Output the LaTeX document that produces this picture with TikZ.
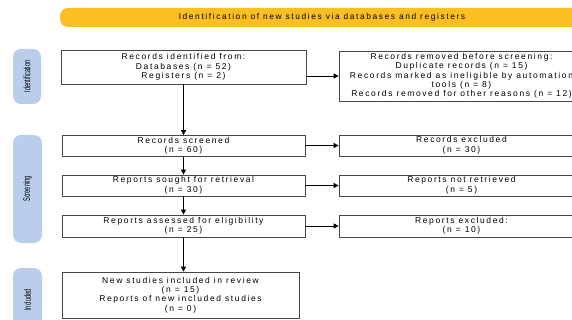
\documentclass[tikz,border=0pt]{standalone}
\usepackage{fontspec}
\setmainfont[LetterSpace=19]{Liberation Sans}
\usetikzlibrary{arrows.meta}
\definecolor{banner}{RGB}{251,191,36}
\definecolor{side}{RGB}{186,206,236}
\definecolor{edge}{RGB}{70,70,70}
\tikzset{
  box/.style={draw=edge, line width=0.7pt, align=center, inner sep=0pt,
    font=\fontsize{8.5}{9.4}\selectfont},
  arr/.style={-{Triangle[length=5pt,width=5pt]}, line width=0.8pt, black},
  sidelab/.style={fill=side, rounded corners=8pt, inner sep=0pt},
  sidetxt/.style={rotate=90, font=\fontsize{9.4}{9}\selectfont},
}
\begin{document}
\begin{tikzpicture}[x=1pt,y=-1pt]
\useasboundingbox (0,0) rectangle (572,320);
\clip (0,0) rectangle (572,320);
\fill[white] (0,0) rectangle (572,320);
% banner
\node[fill=banner, rounded corners=8pt, minimum width=530pt, minimum height=19pt, inner sep=0pt] (ban) at (325,17.5) {};
\node[font=\fontsize{8.4}{9}\selectfont] (bantxt) at (322,17) {Identification of new studies via databases and registers};
% side labels
\node[sidelab, minimum width=28pt, minimum height=55pt] (sid) at (27,76.5) {};
\node[sidetxt] (sidt) at (27,76.5) {\scalebox{0.6}[1]{\addfontfeature{LetterSpace=0}Identification}};
\node[sidelab, minimum width=29pt, minimum height=108pt] (sscr) at (27.5,189) {};
\node[sidetxt] (sscrt) at (27.5,189) {\scalebox{0.6}[1]{\addfontfeature{LetterSpace=0}Screening}};
\node[sidelab, minimum width=29pt, minimum height=70pt] (sinc) at (27.5,303) {};
\node[sidetxt] (sinct) at (27.5,300) {\scalebox{0.6}[1]{\addfontfeature{LetterSpace=0}Included}};
% left column
\node[box, minimum width=245pt, minimum height=34pt] (b1) at (183.5,67) {Records identified from:\\Databases (n = 52)\\Registers (n = 2)};
\node[box, minimum width=243pt, minimum height=21pt] (b2) at (183.5,146) {Records screened\\(n = 60)};
\node[box, minimum width=243pt, minimum height=21pt] (b3) at (183.5,185.5) {Reports sought for retrieval\\(n = 30)};
\node[box, minimum width=243pt, minimum height=22pt] (b4) at (183.5,226) {Reports assessed for eligibility\\(n = 25)};
\node[box, minimum width=237pt, minimum height=46pt] (b5) at (180.5,295) {New studies included in review\\(n = 15)\\Reports of new included studies\\(n = 0)};
% right column
\node[box, minimum width=245pt, minimum height=50pt] (r1) at (461.5,76) {Records removed before screening:\\Duplicate records (n = 15)\\Records marked as ineligible by automation\\tools (n = 8)\\Records removed for other reasons (n = 12)};
\node[box, minimum width=245pt, minimum height=21pt] (r2) at (461.5,145.5) {Records excluded\\(n = 30)};
\node[box, minimum width=245pt, minimum height=21pt] (r3) at (461.5,185.5) {Reports not retrieved\\(n = 5)};
\node[box, minimum width=245pt, minimum height=22pt] (r4) at (461.5,226) {Reports excluded:\\(n = 10)};
% arrows
\draw[arr] (b1.south) -- (b2.north);
\draw[arr] (b2.south) -- (b3.north);
\draw[arr] (b3.south) -- (b4.north);
\draw[arr] (b4.south) -- (b4.south |- b5.north);
\draw[arr] (b1.east |- r1.west) -- (r1.west);
\draw[arr] (b2.east |- r2.west) -- (r2.west);
\draw[arr] (b3.east |- r3.west) -- (r3.west);
\draw[arr] (b4.east |- r4.west) -- (r4.west);
\end{tikzpicture}
\end{document}
